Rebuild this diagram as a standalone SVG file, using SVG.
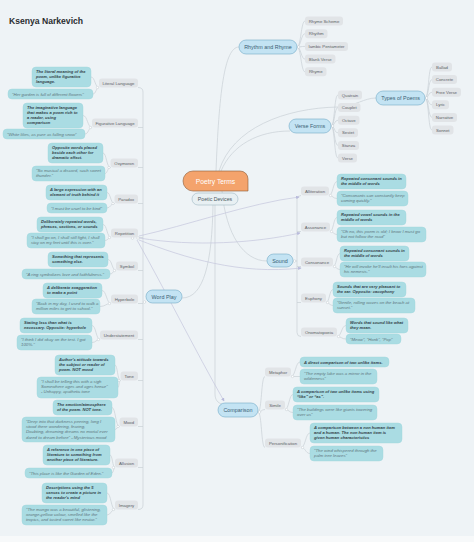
<svg xmlns="http://www.w3.org/2000/svg" width="474" height="542" viewBox="0 0 474 542">
<defs>
<style>
text{font-family:"Liberation Sans",Arial,sans-serif}
.title{font-size:8.6px;fill:#2a2d30;font-weight:600}
.gn rect{fill:#e1e4e7}
.gn text{font-size:4.3px;fill:#5b6166;text-anchor:middle}
.dn rect{fill:#aadce3;stroke:#9dd3db;stroke-width:0.4}
.dd text{font-size:4.1px;font-weight:700;font-style:italic;fill:#33434a}
.de text{font-size:4.3px;font-style:italic;fill:#5f777e}
.bn rect{fill:#c3e3f3;stroke:#72abc8;stroke-width:0.6}
.bn text{font-size:5.4px;fill:#3a5f73;text-anchor:middle}
.ln{fill:none;stroke:#c9d0d6;stroke-width:0.7}
.rl{fill:none;stroke:#c4c5dc;stroke-width:0.7}
.dot{fill:#fff;stroke:#c3cad0;stroke-width:0.5}
</style>
<marker id="arr" viewBox="0 0 6 6" refX="5" refY="3" markerWidth="3.5" markerHeight="3.5" markerUnits="userSpaceOnUse" orient="auto"><path d="M0,0L6,3L0,6z" fill="#b8badb"/></marker>
</defs>
<rect x="0" y="0" width="474" height="542" fill="#eef3f6"/>
<rect x="0" y="536" width="474" height="6" fill="#f7f9fa"/>
<text class="title" x="9" y="24">Ksenya Narkevich</text>

<g id="connectors">
<path class="ln" d="M216,171C219,95 224,47 239,47"/>
<path class="ln" d="M219,171C232,128 285,108 338,107C356,106 364,98 376,98"/>
<path class="ln" d="M221,171C232,145 258,131 290,131"/>
<path class="ln" d="M222,191C226,235 244,261 267,261"/>
<path class="ln" d="M213,205C212,262 204,298 182,298"/>
<path class="ln" d="M215,205V394C215,400 218,403 222,404"/>
<!-- rhythm and rhyme -->
<path class="ln" d="M297,47C301,47 301,21 305,21M297,47C301,47 301,33.7 305,33.7M297,47C301,47 301,46.4 305,46.4M297,47C301,47 301,59.1 305,59.1M297,47C301,47 301,71.8 305,71.8"/>
<!-- verse forms -->
<path class="ln" d="M331,126C335,126 334,95 338,95M331,126C335,126 334,107.6 338,107.6M331,126C335,126 334,120.2 338,120.2M331,126C335,126 334,132.8 338,132.8M331,126C335,126 334,145.4 338,145.4M331,126C335,126 334,158 338,158"/>
<!-- types of poems -->
<path class="ln" d="M425,98C429,98 428,67 432,67M425,98C429,98 428,79.6 432,79.6M425,98C429,98 428,92.2 432,92.2M425,98C429,98 428,104.8 432,104.8M425,98C429,98 428,117.4 432,117.4M425,98C429,98 428,130 432,130"/>
<!-- word play spine -->
<path class="ln" d="M138,87.5Q143,87.5 143,92V505Q143,509.5 138,509.5M138,127.5H143M138,167.5H143M138,203.5H143M138,237.5H143M138,270.5H143M138,303.5H143M138,339.5H143M138,380.5H143M138,426.5H143M138,467.5H143M143,302H146"/>
<!-- left descriptions -->
<path class="ln" d="M99,87.5C95,87.5 95,77 91,77M99,87.5C96,87.5 96,94 93,94"/>
<path class="ln" d="M92,127.5C87.5,127.5 87.5,115.5 83,115.5M92,127.5C88.5,127.5 88.5,134 85,134"/>
<path class="ln" d="M110.5,167.5C106.5,167.5 106.5,153 103,153M110.5,167.5C107.5,167.5 107.5,173.5 105,173.5"/>
<path class="ln" d="M114.5,203.5C110.5,203.5 110.5,192.5 107,192.5M114.5,203.5C110.5,203.5 110.5,208 107,208"/>
<path class="ln" d="M111,237.5C107,237.5 107,224.5 103,224.5M111,237.5C108,237.5 108,240.5 105,240.5"/>
<path class="ln" d="M116,270.5C112,270.5 112,259.5 108,259.5M116,270.5C113,270.5 113,274 110,274"/>
<path class="ln" d="M111,303.5C106.5,303.5 106.5,290.5 102,290.5M111,303.5C105.5,303.5 105.5,306.5 100,306.5"/>
<path class="ln" d="M100,339.5C96,339.5 96,325.5 92,325.5M100,339.5C96,339.5 96,342.5 92,342.5"/>
<path class="ln" d="M120.5,380.5C117.5,380.5 117.5,365 115,365M120.5,380.5C119,380.5 119,387.5 118,387.5"/>
<path class="ln" d="M119.5,426.5C115.5,426.5 115.5,407.5 112,407.5M119.5,426.5C117,426.5 117,429.5 115,429.5"/>
<path class="ln" d="M115,467.5C112.5,467.5 112.5,455 110,455M115,467.5C113.5,467.5 113.5,473 112,473"/>
<path class="ln" d="M115,509.5C111,509.5 111,493 107,493M115,509.5C111,509.5 111,515 107,515"/>
<!-- sound spine -->
<path class="ln" d="M301,195.5Q297,195.5 297,199.5V332.5Q297,336.5 301,336.5M297,231.5H301M297,266.5H301M297,302.5H301M293,261H297"/>
<path class="ln" d="M329,195.5C333,195.5 333,181.5 337,181.5M329,195.5C333,195.5 333,198.5 337,198.5"/>
<path class="ln" d="M330,231.5C333.5,231.5 333.5,217.5 337,217.5M330,231.5C333.5,231.5 333.5,234.5 337,234.5"/>
<path class="ln" d="M333,266.5C336.5,266.5 336.5,253.5 340,253.5M333,266.5C336.5,266.5 336.5,269.5 340,269.5"/>
<path class="ln" d="M326,302.5C329.5,302.5 329.5,289.5 333,289.5M326,302.5C329.5,302.5 329.5,305.5 333,305.5"/>
<path class="ln" d="M337,336.5C341.5,336.5 341.5,325.5 346,325.5M337,336.5C341.5,336.5 341.5,339 346,339"/>
<!-- comparison -->
<path class="ln" d="M258,412C262,412 261,376.5 265,376.5M258,412C262,412 261,409.5 265,409.5M258,412C262,412 261,447.5 265,447.5"/>
<path class="ln" d="M291,376.5C295.5,376.5 295.5,362 300,362M291,376.5H300"/>
<path class="ln" d="M285,409.5C289,409.5 289,394.5 293,394.5M285,409.5C289,409.5 289,412.5 293,412.5"/>
<path class="ln" d="M301,447.5C305.5,447.5 305.5,433 310,433M301,447.5C305.5,447.5 305.5,453.5 310,453.5"/>
<!-- relationships -->
<path class="rl" marker-end="url(#arr)" d="M139,236C185,226 250,203 299,197"/>
<path class="rl" marker-end="url(#arr)" d="M139,238C195,247 255,243 300,233"/>
<path class="rl" marker-end="url(#arr)" d="M139,240C185,258 240,275 301,268"/>
<path class="rl" marker-end="url(#arr)" d="M137,240C165,290 195,350 224,401"/>
<!-- dots -->
<circle class="dot" cx="132.5" cy="238" r="1.3"/><circle class="dot" cx="138" cy="238" r="1.3"/>
<circle class="dot" cx="144.5" cy="302" r="1.3"/>
<circle class="dot" cx="298.5" cy="47" r="1.3"/><circle class="dot" cx="332.5" cy="126" r="1.3"/><circle class="dot" cx="426.5" cy="98" r="1.3"/>
<circle class="dot" cx="294.5" cy="261" r="1.3"/><circle class="dot" cx="259.5" cy="412" r="1.3"/>
<circle class="dot" cx="97.5" cy="87.5" r="1.2"/><circle class="dot" cx="90.5" cy="127.5" r="1.2"/><circle class="dot" cx="109" cy="167.5" r="1.2"/><circle class="dot" cx="113" cy="203.5" r="1.2"/><circle class="dot" cx="109.5" cy="237.5" r="1.2"/><circle class="dot" cx="114.5" cy="270.5" r="1.2"/><circle class="dot" cx="109.5" cy="303.5" r="1.2"/><circle class="dot" cx="98.5" cy="339.5" r="1.2"/><circle class="dot" cx="119" cy="380.5" r="1.2"/><circle class="dot" cx="118" cy="426.5" r="1.2"/><circle class="dot" cx="113.5" cy="467.5" r="1.2"/><circle class="dot" cx="113.5" cy="509.5" r="1.2"/>
<circle class="dot" cx="330.5" cy="195.5" r="1.2"/><circle class="dot" cx="331.5" cy="231.5" r="1.2"/><circle class="dot" cx="334.5" cy="266.5" r="1.2"/><circle class="dot" cx="327.5" cy="302.5" r="1.2"/><circle class="dot" cx="338.5" cy="336.5" r="1.2"/>
<circle class="dot" cx="292.5" cy="376.5" r="1.2"/><circle class="dot" cx="286.5" cy="409.5" r="1.2"/><circle class="dot" cx="302.5" cy="447.5" r="1.2"/>
</g>

<g id="poetry-terms"><path d="M193,171H240A8,8 0 0 1 248,179V191H193A10,10 0 0 1 193,171Z" fill="#f4a36c" stroke="#8b5b36" stroke-width="0.6"/><text x="215.5" y="184" font-size="6.7" fill="#fff" text-anchor="middle">Poetry Terms</text></g>
<g id="poetic-devices"><rect x="192" y="193" width="46" height="12" rx="6" fill="#e8f0f3" stroke="#9fb9c4" stroke-width="0.6"/><text x="215" y="201" font-size="5.2" fill="#4a5a62" text-anchor="middle">Poetic Devices</text></g>

<g id="rhythm-and-rhyme" class="bn"><rect x="239" y="40" width="58" height="14" rx="7"/><text x="268" y="49">Rhythm and Rhyme</text></g>
<g id="verse-forms" class="bn"><rect x="289" y="119" width="42" height="14" rx="7"/><text x="310" y="128">Verse Forms</text></g>
<g id="types-of-poems" class="bn"><rect x="376" y="91" width="49" height="14" rx="7"/><text x="400.5" y="100">Types of Poems</text></g>
<g id="sound" class="bn"><rect x="267" y="254" width="26" height="13" rx="6.5"/><text x="280" y="262.5">Sound</text></g>
<g id="word-play" class="bn"><rect x="146" y="290" width="36" height="13" rx="6.5"/><text x="164" y="298.5">Word Play</text></g>
<g id="comparison" class="bn"><rect x="218" y="403" width="40" height="14" rx="7"/><text x="238" y="412">Comparison</text></g>

<g id="rhyme-scheme" class="gn"><rect x="305" y="16.5" width="38" height="9" rx="3"/><text x="324" y="22.5">Rhyme Scheme</text></g>
<g id="rhythm" class="gn"><rect x="305" y="29.2" width="22.5" height="9" rx="3"/><text x="316.25" y="35.2">Rhythm</text></g>
<g id="iambic-pentameter" class="gn"><rect x="305" y="41.9" width="43" height="9" rx="3"/><text x="326.5" y="47.9">Iambic Pentameter</text></g>
<g id="blank-verse" class="gn"><rect x="305" y="54.6" width="30.5" height="9" rx="3"/><text x="320.25" y="60.6">Blank Verse</text></g>
<g id="rhyme" class="gn"><rect x="305" y="67.3" width="21.5" height="9" rx="3"/><text x="315.75" y="73.3">Rhyme</text></g>

<g id="quatrain" class="gn"><rect x="338" y="90.5" width="24" height="9" rx="3"/><text x="350" y="96.5">Quatrain</text></g>
<g id="couplet" class="gn"><rect x="338" y="103.1" width="22.5" height="9" rx="3"/><text x="349.25" y="109.1">Couplet</text></g>
<g id="octave" class="gn"><rect x="338" y="115.7" width="21.5" height="9" rx="3"/><text x="348.75" y="121.7">Octave</text></g>
<g id="sestet" class="gn"><rect x="338" y="128.3" width="20" height="9" rx="3"/><text x="348" y="134.3">Sestet</text></g>
<g id="stanza" class="gn"><rect x="338" y="140.9" width="21" height="9" rx="3"/><text x="348.5" y="146.9">Stanza</text></g>
<g id="verse" class="gn"><rect x="338" y="153.5" width="19" height="9" rx="3"/><text x="347.5" y="159.5">Verse</text></g>

<g id="ballad" class="gn"><rect x="432" y="62.5" width="20" height="9" rx="3"/><text x="442" y="68.5">Ballad</text></g>
<g id="concrete" class="gn"><rect x="432" y="75.1" width="25" height="9" rx="3"/><text x="444.5" y="81.1">Concrete</text></g>
<g id="free-verse" class="gn"><rect x="432" y="87.7" width="29" height="9" rx="3"/><text x="446.5" y="93.7">Free Verse</text></g>
<g id="lyric" class="gn"><rect x="432" y="100.3" width="17" height="9" rx="3"/><text x="440.5" y="106.3">Lyric</text></g>
<g id="narrative" class="gn"><rect x="432" y="112.9" width="25" height="9" rx="3"/><text x="444.5" y="118.9">Narrative</text></g>
<g id="sonnet" class="gn"><rect x="432" y="125.5" width="21.5" height="9" rx="3"/><text x="442.75" y="131.5">Sonnet</text></g>

<!-- word play children -->
<g id="literal-language" class="gn"><rect x="99" y="78.5" width="39" height="9" rx="3"/><text x="118.5" y="84.5">Literal Language</text></g>
<g id="figurative-language" class="gn"><rect x="92" y="118.5" width="46" height="9" rx="3"/><text x="115" y="124.5">Figurative Language</text></g>
<g id="oxymoron" class="gn"><rect x="110.5" y="158.5" width="27.5" height="9" rx="3"/><text x="124.25" y="164.5">Oxymoron</text></g>
<g id="paradox" class="gn"><rect x="114.5" y="194.5" width="23.5" height="9" rx="3"/><text x="126.25" y="200.5">Paradox</text></g>
<g id="repetition" class="gn"><rect x="111" y="228.5" width="27" height="9" rx="3"/><text x="124.5" y="234.5">Repetition</text></g>
<g id="symbol" class="gn"><rect x="116" y="261.5" width="22" height="9" rx="3"/><text x="127" y="267.5">Symbol</text></g>
<g id="hyperbole" class="gn"><rect x="111" y="294.5" width="27" height="9" rx="3"/><text x="124.5" y="300.5">Hyperbole</text></g>
<g id="understatement" class="gn"><rect x="100" y="330.5" width="38" height="9" rx="3"/><text x="119" y="336.5">Understatement</text></g>
<g id="tone" class="gn"><rect x="120.5" y="371.5" width="17.5" height="9" rx="3"/><text x="129.25" y="377.5">Tone</text></g>
<g id="mood" class="gn"><rect x="119.5" y="417.5" width="18.5" height="9" rx="3"/><text x="128.75" y="423.5">Mood</text></g>
<g id="allusion" class="gn"><rect x="115" y="458.5" width="23" height="9" rx="3"/><text x="126.5" y="464.5">Allusion</text></g>
<g id="imagery" class="gn"><rect x="115" y="500.5" width="23" height="9" rx="3"/><text x="126.5" y="506.5">Imagery</text></g>

<!-- sound children -->
<g id="alliteration" class="gn"><rect x="301" y="186.5" width="28" height="9" rx="3"/><text x="315" y="192.5">Alliteration</text></g>
<g id="assonance" class="gn"><rect x="301" y="222.5" width="29" height="9" rx="3"/><text x="315.5" y="228.5">Assonance</text></g>
<g id="consonance" class="gn"><rect x="301" y="257.5" width="32" height="9" rx="3"/><text x="317" y="263.5">Consonance</text></g>
<g id="euphony" class="gn"><rect x="301" y="293.5" width="25" height="9" rx="3"/><text x="313.5" y="299.5">Euphony</text></g>
<g id="onomatopoeia" class="gn"><rect x="301" y="327.5" width="36" height="9" rx="3"/><text x="319" y="333.5">Onomatopoeia</text></g>

<!-- comparison children -->
<g id="metaphor" class="gn"><rect x="265" y="367.5" width="26" height="9" rx="3"/><text x="278" y="373.5">Metaphor</text></g>
<g id="simile" class="gn"><rect x="265" y="400.5" width="20" height="9" rx="3"/><text x="275" y="406.5">Simile</text></g>
<g id="personification" class="gn"><rect x="265" y="438.5" width="36" height="9" rx="3"/><text x="283" y="444.5">Personification</text></g>

<!-- descriptions left -->
<g id="literal-def" class="dn dd"><rect x="32" y="67" width="59" height="20" rx="4"/><text><tspan x="36" y="73">The literal meaning of the</tspan><tspan x="36" y="78">poem, unlike figurative</tspan><tspan x="36" y="83">language.</tspan></text></g>
<g id="literal-ex" class="dn de"><rect x="8" y="89" width="85" height="10" rx="4"/><text x="12" y="95.6">“Her garden is full of different flowers”</text></g>
<g id="figurative-def" class="dn dd"><rect x="23" y="103" width="60" height="25" rx="4"/><text><tspan x="27" y="109">The imaginative language</tspan><tspan x="27" y="114">that makes a poem rich to</tspan><tspan x="27" y="119">a reader, using</tspan><tspan x="27" y="124">comparison</tspan></text></g>
<g id="figurative-ex" class="dn de"><rect x="3" y="129" width="82" height="10" rx="4"/><text x="7" y="135.6">“White lilies, as pure as falling snow”</text></g>
<g id="oxymoron-def" class="dn dd"><rect x="48" y="143" width="55" height="20" rx="4"/><text><tspan x="52" y="149">Opposite words placed</tspan><tspan x="52" y="154">beside each other for</tspan><tspan x="52" y="159">dramatic effect.</tspan></text></g>
<g id="oxymoron-ex" class="dn de"><rect x="32" y="166" width="73" height="15" rx="4"/><text><tspan x="36" y="172">“So musical a discord, such sweet</tspan><tspan x="36" y="177.2">thunder.”</tspan></text></g>
<g id="paradox-def" class="dn dd"><rect x="46" y="185" width="61" height="15" rx="4"/><text><tspan x="50" y="191">A large expression with an</tspan><tspan x="50" y="196">element of truth behind it</tspan></text></g>
<g id="paradox-ex" class="dn de"><rect x="47" y="203" width="60" height="10" rx="4"/><text x="51" y="209.6">“I must be cruel to be kind”</text></g>
<g id="repetition-def" class="dn dd"><rect x="37" y="217" width="66" height="15" rx="4"/><text><tspan x="41" y="223">Deliberately repeated words,</tspan><tspan x="41" y="228">phrases, sections, or sounds</tspan></text></g>
<g id="repetition-ex" class="dn de"><rect x="27" y="233" width="78" height="15" rx="4"/><text><tspan x="31" y="239">“I shall go on, I shall still fight, I shall</tspan><tspan x="31" y="244.2">stay on my feet until this is over.”</tspan></text></g>
<g id="symbol-def" class="dn dd"><rect x="48" y="252" width="60" height="15" rx="4"/><text><tspan x="52" y="258">Something that represents</tspan><tspan x="52" y="263">something else.</tspan></text></g>
<g id="symbol-ex" class="dn de"><rect x="22" y="269" width="88" height="10" rx="4"/><text x="26" y="275.6">“A ring symbolizes love and faithfulness.”</text></g>
<g id="hyperbole-def" class="dn dd"><rect x="43" y="283" width="59" height="15" rx="4"/><text><tspan x="47" y="289">A deliberate exaggeration</tspan><tspan x="47" y="294">to make a point</tspan></text></g>
<g id="hyperbole-ex" class="dn de"><rect x="32" y="299" width="68" height="15" rx="4"/><text><tspan x="36" y="305">“Back in my day, I used to walk a</tspan><tspan x="36" y="310.2">million miles to get to school.”</tspan></text></g>
<g id="understatement-def" class="dn dd"><rect x="20" y="318" width="72" height="15" rx="4"/><text><tspan x="24" y="324">Stating less than what is</tspan><tspan x="24" y="329">necessary. Opposite: hyperbole</tspan></text></g>
<g id="understatement-ex" class="dn de"><rect x="17" y="335" width="75" height="15" rx="4"/><text><tspan x="21" y="341">“I think I did okay on the test. I got</tspan><tspan x="21" y="346.2">100%.”</tspan></text></g>
<g id="tone-def" class="dn dd"><rect x="55" y="355" width="60" height="20" rx="4"/><text><tspan x="59" y="361">Author's attitude towards</tspan><tspan x="59" y="366">the subject or reader of</tspan><tspan x="59" y="371">poem. NOT mood</tspan></text></g>
<g id="tone-ex" class="dn de"><rect x="37" y="377" width="81" height="21" rx="4"/><text><tspan x="41" y="383">“I shall be telling this with a sigh</tspan><tspan x="41" y="388.2">Somewhere ages and ages hence”</tspan><tspan x="41" y="393.4">- Unhappy, apathetic tone</tspan></text></g>
<g id="mood-def" class="dn dd"><rect x="53" y="400" width="59" height="15" rx="4"/><text><tspan x="57" y="406">The emotion/atmosphere</tspan><tspan x="57" y="411">of the poem. NOT tone.</tspan></text></g>
<g id="mood-ex" class="dn de"><rect x="22" y="417" width="93" height="25" rx="4"/><text><tspan x="26" y="423">“Deep into that darkness peering, long I</tspan><tspan x="26" y="428.2">stood there wondering, fearing,</tspan><tspan x="26" y="433.4">Doubting, dreaming dreams no mortal ever</tspan><tspan x="26" y="438.6">dared to dream before” - Mysterious mood</tspan></text></g>
<g id="allusion-def" class="dn dd"><rect x="43" y="445" width="67" height="20" rx="4"/><text><tspan x="47" y="451">A reference in one piece of</tspan><tspan x="47" y="456">literature to something from</tspan><tspan x="47" y="461">another piece of literature.</tspan></text></g>
<g id="allusion-ex" class="dn de"><rect x="25" y="468" width="87" height="10" rx="4"/><text x="29" y="474.6">“This place is like the Garden of Eden.”</text></g>
<g id="imagery-def" class="dn dd"><rect x="42" y="483" width="65" height="20" rx="4"/><text><tspan x="46" y="489">Descriptions using the 5</tspan><tspan x="46" y="494">senses to create a picture in</tspan><tspan x="46" y="499">the reader's mind</tspan></text></g>
<g id="imagery-ex" class="dn de"><rect x="22" y="505" width="85" height="20" rx="4"/><text><tspan x="26" y="511">“The mango was a beautiful, glistening,</tspan><tspan x="26" y="516.2">orange-yellow colour, smelled like the</tspan><tspan x="26" y="521.4">tropics, and tasted sweet like nectar.”</tspan></text></g>

<!-- descriptions sound -->
<g id="alliteration-def" class="dn dd"><rect x="337" y="174" width="69" height="15" rx="4"/><text><tspan x="341" y="180">Repeated consonant sounds in</tspan><tspan x="341" y="185">the middle of words</tspan></text></g>
<g id="alliteration-ex" class="dn de"><rect x="337" y="191" width="71" height="15" rx="4"/><text><tspan x="341" y="197">“Consonants can constantly keep</tspan><tspan x="341" y="202.2">coming quickly.”</tspan></text></g>
<g id="assonance-def" class="dn dd"><rect x="337" y="210" width="69" height="15" rx="4"/><text><tspan x="341" y="216">Repeated vowel sounds in the</tspan><tspan x="341" y="221">middle of words</tspan></text></g>
<g id="assonance-ex" class="dn de"><rect x="337" y="227" width="89" height="15" rx="4"/><text><tspan x="341" y="233">“Oh no, this poem is old; I know I must go</tspan><tspan x="341" y="238.2">but not follow the road”</tspan></text></g>
<g id="consonance-def" class="dn dd"><rect x="340" y="246" width="69" height="15" rx="4"/><text><tspan x="344" y="252">Repeated consonant sounds in</tspan><tspan x="344" y="257">the middle of words</tspan></text></g>
<g id="consonance-ex" class="dn de"><rect x="340" y="262" width="86" height="15" rx="4"/><text><tspan x="344" y="268">“He will invoke he'll insult his foes against</tspan><tspan x="344" y="273.2">his nemesis.”</tspan></text></g>
<g id="euphony-def" class="dn dd"><rect x="333" y="282" width="73" height="15" rx="4"/><text><tspan x="337" y="288">Sounds that are very pleasant to</tspan><tspan x="337" y="293">the ear. Opposite: cacophony</tspan></text></g>
<g id="euphony-ex" class="dn de"><rect x="333" y="298" width="82" height="15" rx="4"/><text><tspan x="337" y="304">“Gentle, rolling waves on the beach at</tspan><tspan x="337" y="309.2">sunset.”</tspan></text></g>
<g id="onomatopoeia-def" class="dn dd"><rect x="346" y="318" width="62" height="15" rx="4"/><text><tspan x="350" y="324">Words that sound like what</tspan><tspan x="350" y="329">they mean.</tspan></text></g>
<g id="onomatopoeia-ex" class="dn de"><rect x="346" y="334" width="55" height="10" rx="4"/><text x="350" y="340.6">“Meow”, “Honk”, “Pop”</text></g>

<!-- descriptions comparison -->
<g id="metaphor-def" class="dn dd"><rect x="300" y="357" width="89" height="10" rx="4"/><text x="304" y="363.6">A direct comparison of two unlike items.</text></g>
<g id="metaphor-ex" class="dn de"><rect x="300" y="369" width="77" height="15" rx="4"/><text><tspan x="304" y="375">“The empty lake was a mirror in the</tspan><tspan x="304" y="380.2">wilderness”</tspan></text></g>
<g id="simile-def" class="dn dd"><rect x="293" y="387" width="86" height="15" rx="4"/><text><tspan x="297" y="393">A comparison of two unlike items using</tspan><tspan x="297" y="398">“like” or “as”.</tspan></text></g>
<g id="simile-ex" class="dn de"><rect x="293" y="405" width="84" height="15" rx="4"/><text><tspan x="297" y="411">“The buildings were like giants towering</tspan><tspan x="297" y="416.2">over us”</tspan></text></g>
<g id="personification-def" class="dn dd"><rect x="310" y="423" width="92" height="20" rx="4"/><text><tspan x="314" y="429">A comparison between a non human item</tspan><tspan x="314" y="434">and a human. The non human item is</tspan><tspan x="314" y="439">given human characteristics</tspan></text></g>
<g id="personification-ex" class="dn de"><rect x="310" y="446" width="73" height="15" rx="4"/><text><tspan x="314" y="452">“The wind whispered through the</tspan><tspan x="314" y="457.2">palm tree leaves”</tspan></text></g>
</svg>
